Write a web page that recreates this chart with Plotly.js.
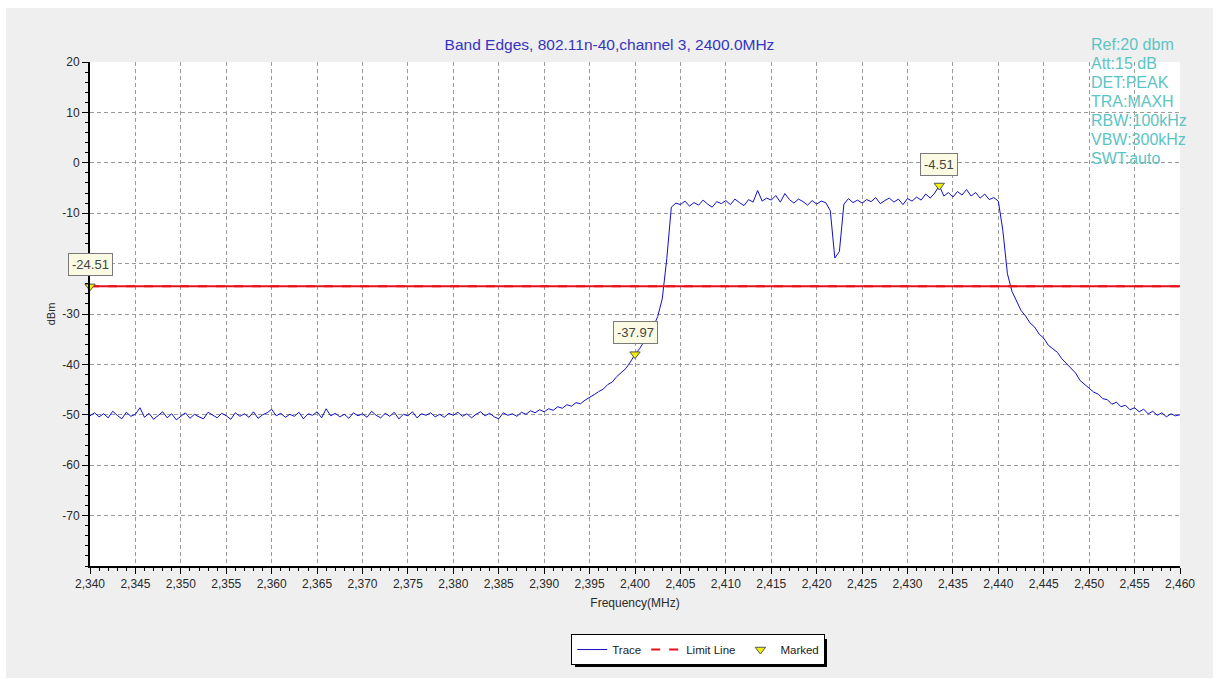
<!DOCTYPE html>
<html>
<head>
<meta charset="utf-8">
<script src="https://cdn.plot.ly/plotly-3.0.1.min.js"></script>
<style>
  html, body { margin:0; padding:0; background:#ffffff; }
  #chart { position:absolute; left:6px; top:8px; width:1207px; height:670px; }
</style>
</head>
<body>
<div id="chart"></div>
<script>
// Sweep settings (MHz)
const startFreq = 2340;
const stepFreq = 0.5;

// Trace levels (dBm), one value per 0.5 MHz from 2340 to 2460
const traceLevels = [
  -50.2,-49.6,-50.4,-49.8,-50.6,-49.3,-50.1,-50.8,-49.5,-50.3,
  -49.9,-48.6,-50.5,-49.7,-50.9,-50.2,-49.4,-50.6,-49.8,-51.0,
  -50.3,-49.6,-50.7,-49.9,-50.4,-50.8,-49.5,-50.1,-50.6,-49.7,
  -50.2,-50.9,-49.6,-50.3,-49.8,-50.5,-49.4,-50.7,-50.0,-49.6,
  -48.9,-50.2,-49.7,-50.5,-49.9,-50.3,-49.5,-50.8,-49.8,-50.1,
  -49.4,-50.6,-48.8,-50.2,-49.7,-50.4,-49.9,-50.7,-49.6,-50.2,
  -49.8,-50.5,-49.3,-50.1,-50.6,-49.7,-50.3,-49.5,-50.8,-49.9,
  -50.2,-49.4,-50.6,-49.8,-50.1,-49.6,-50.4,-49.9,-50.5,-49.7,
  -50.1,-49.5,-50.3,-49.8,-50.6,-49.9,-49.4,-50.2,-49.7,-50.4,
  -50.8,-49.6,-50.1,-49.8,-50.3,-49.5,-49.9,-49.2,-49.6,-49.0,
  -49.4,-48.8,-49.1,-48.4,-48.7,-48.0,-48.3,-47.6,-47.8,-47.1,
  -46.6,-46.0,-45.4,-44.9,-44.0,-43.5,-42.4,-41.6,-40.8,-39.5,
  -38.0,-36.9,-35.5,-34.2,-32.6,-30.5,-27.0,-19.0,-8.8,-8.0,
  -8.3,-7.6,-8.6,-7.9,-8.4,-7.4,-8.2,-8.8,-7.7,-8.1,
  -7.5,-8.3,-7.2,-7.9,-8.5,-7.3,-7.8,-5.5,-7.6,-7.0,
  -7.4,-6.5,-7.8,-6.1,-7.3,-8.0,-7.2,-7.7,-8.4,-7.5,
  -8.2,-7.6,-7.9,-9.5,-18.9,-17.6,-8.2,-7.1,-7.9,-7.4,
  -8.0,-7.3,-7.7,-6.9,-8.1,-7.5,-7.0,-7.8,-7.2,-8.3,
  -7.1,-7.6,-6.8,-7.4,-6.2,-7.0,-6.0,-4.5,-6.6,-5.9,
  -6.8,-5.7,-6.4,-5.3,-6.6,-5.9,-7.0,-6.2,-7.3,-6.9,
  -7.6,-13.5,-22.0,-25.5,-27.5,-29.3,-30.4,-31.8,-32.6,-34.0,
  -34.8,-36.2,-36.9,-37.6,-38.9,-39.8,-40.9,-41.7,-43.2,-44.0,
  -44.6,-45.5,-45.9,-46.8,-47.0,-47.9,-47.5,-48.4,-48.1,-49.0,
  -48.6,-49.4,-48.9,-49.8,-49.3,-50.1,-49.6,-50.4,-49.8,-50.2,
  -50.0
];
const traceFreqs = traceLevels.map((_, i) => startFreq + i * stepFreq);

// Limit line
const limitFreqs = [2340, 2460];
const limitLevels = [-24.51, -24.51];

// Markers
const markerFreqs = [2340, 2400, 2433.5];
const markerLevels = [-24.51, -37.97, -4.51];
const markerLabels = ["-24.51", "-37.97", "-4.51"];

// Axis ticks (the -20 label is hidden under the marker box in the reference)
const xTicks = [2340,2345,2350,2355,2360,2365,2370,2375,2380,2385,2390,2395,2400,2405,2410,2415,2420,2425,2430,2435,2440,2445,2450,2455,2460];
const yTicks = [-70,-60,-50,-40,-30,-20,-10,0,10,20];
const yTickText = ["-70","-60","-50","-40","-30","","-10","0","10","20"];

// Instrument settings text
const settingsLines = ["Ref:20 dbm","Att:15 dB","DET:PEAK","TRA:MAXH","RBW:100kHz","VBW:300kHz","SWT:auto"];

const FONT = 'Arial, Liberation Sans, sans-serif';

const traces = [
  { x: traceFreqs, y: traceLevels, type: 'scatter', mode: 'lines', name: 'Trace',
    line: { color: '#1010c8', width: 1 }, hoverinfo: 'x+y' },
  { x: limitFreqs, y: limitLevels, type: 'scatter', mode: 'lines', name: 'Limit Line',
    line: { color: '#e8101a', width: 2, dash: 'dash' } },
  { x: limitFreqs, y: limitLevels, type: 'scatter', mode: 'lines', name: 'Limit Line',
    line: { color: '#e8101a', width: 2 }, showlegend: false },
  { x: markerFreqs, y: markerLevels, type: 'scatter', mode: 'markers', name: 'Marked',
    marker: { symbol: 'triangle-down', size: 9, color: '#f0f000', line: { color: '#555555', width: 1 } },
    cliponaxis: false }
];

const annotations = markerFreqs.map((f, i) => ({
  x: f, y: markerLevels[i], xref: 'x', yref: 'y',
  text: markerLabels[i], showarrow: false,
  xanchor: 'center', yanchor: 'bottom', yshift: 10,
  bgcolor: '#fbfbe4', bordercolor: '#7a7a7a', borderwidth: 1, borderpad: 3,
  font: { family: FONT, size: 13, color: '#444444' }
}));
settingsLines.forEach((s, i) => {
  annotations.push({
    xref: 'paper', yref: 'paper', x: 0.9165, y: (566 - 34 - i * 19) / 504,
    xanchor: 'left', yanchor: 'top', align: 'left', showarrow: false,
    text: s,
    font: { family: FONT, size: 16, color: '#5cc4c4' }
  });
});

// Legend drop shadow (page pixels -> paper fractions; plot area x 90..1180, y 62..566)
const px2x = p => (p - 90) / 1090;
const px2y = p => (566 - p) / 504;
const shapes = [{
  type: 'rect', xref: 'paper', yref: 'paper', layer: 'below',
  x0: px2x(575), x1: px2x(827), y0: px2y(667), y1: px2y(639),
  fillcolor: '#000000', line: { width: 0 }
}];

const layout = {
  width: 1207, height: 670,
  margin: { l: 84, r: 33, t: 54, b: 112 },
  paper_bgcolor: '#efefef',
  plot_bgcolor: '#ffffff',
  title: { text: 'Band Edges, 802.11n-40,channel 3, 2400.0MHz',
    font: { family: FONT, size: 15.5, color: '#3535c0' },
    x: 0.5, xref: 'container', y: 0.946, yref: 'container', yanchor: 'middle' },
  showlegend: true,
  legend: { orientation: 'h', x: 0.558, xanchor: 'center', y: -0.135, yanchor: 'top',
    bgcolor: '#ffffff', bordercolor: '#000000', borderwidth: 1,
    font: { family: FONT, size: 11.5, color: '#222222' },
    itemwidth: 30, traceorder: 'normal', tracegroupgap: 0 },
  xaxis: {
    range: [2340, 2460], tickmode: 'array', tickvals: xTicks, tickformat: ',d',
    showline: true, linecolor: '#000000', linewidth: 2, mirror: false,
    ticks: 'outside', ticklen: 6, tickcolor: '#000000',
    showgrid: true, gridcolor: '#9a9a9a', griddash: '4px,3px', gridwidth: 1,
    zeroline: false,
    minor: { dtick: 1, tick0: 2340, ticks: 'outside', ticklen: 3, tickcolor: '#000000', showgrid: false },
    tickfont: { family: FONT, size: 12, color: '#2a2a2a' },
    title: { text: 'Frequency(MHz)', standoff: 8,
      font: { family: FONT, size: 12, color: '#2a2a2a' } }
  },
  yaxis: {
    range: [-80, 20], tickmode: 'array', tickvals: yTicks, ticktext: yTickText,
    showline: true, linecolor: '#000000', linewidth: 2, mirror: false,
    ticks: 'outside', ticklen: 6, tickcolor: '#000000',
    showgrid: true, gridcolor: '#9a9a9a', griddash: '4px,3px', gridwidth: 1,
    zeroline: false,
    minor: { dtick: 2, tick0: 0, ticks: 'outside', ticklen: 3, tickcolor: '#000000', showgrid: false },
    tickfont: { family: FONT, size: 12, color: '#2a2a2a' },
    title: { text: 'dBm', standoff: 4,
      font: { family: FONT, size: 11, color: '#2a2a2a' } }
  },
  shapes: shapes,
  annotations: annotations,
  hovermode: 'closest'
};

Plotly.newPlot('chart', traces, layout, { displayModeBar: false, responsive: false });
</script>
</body>
</html>
